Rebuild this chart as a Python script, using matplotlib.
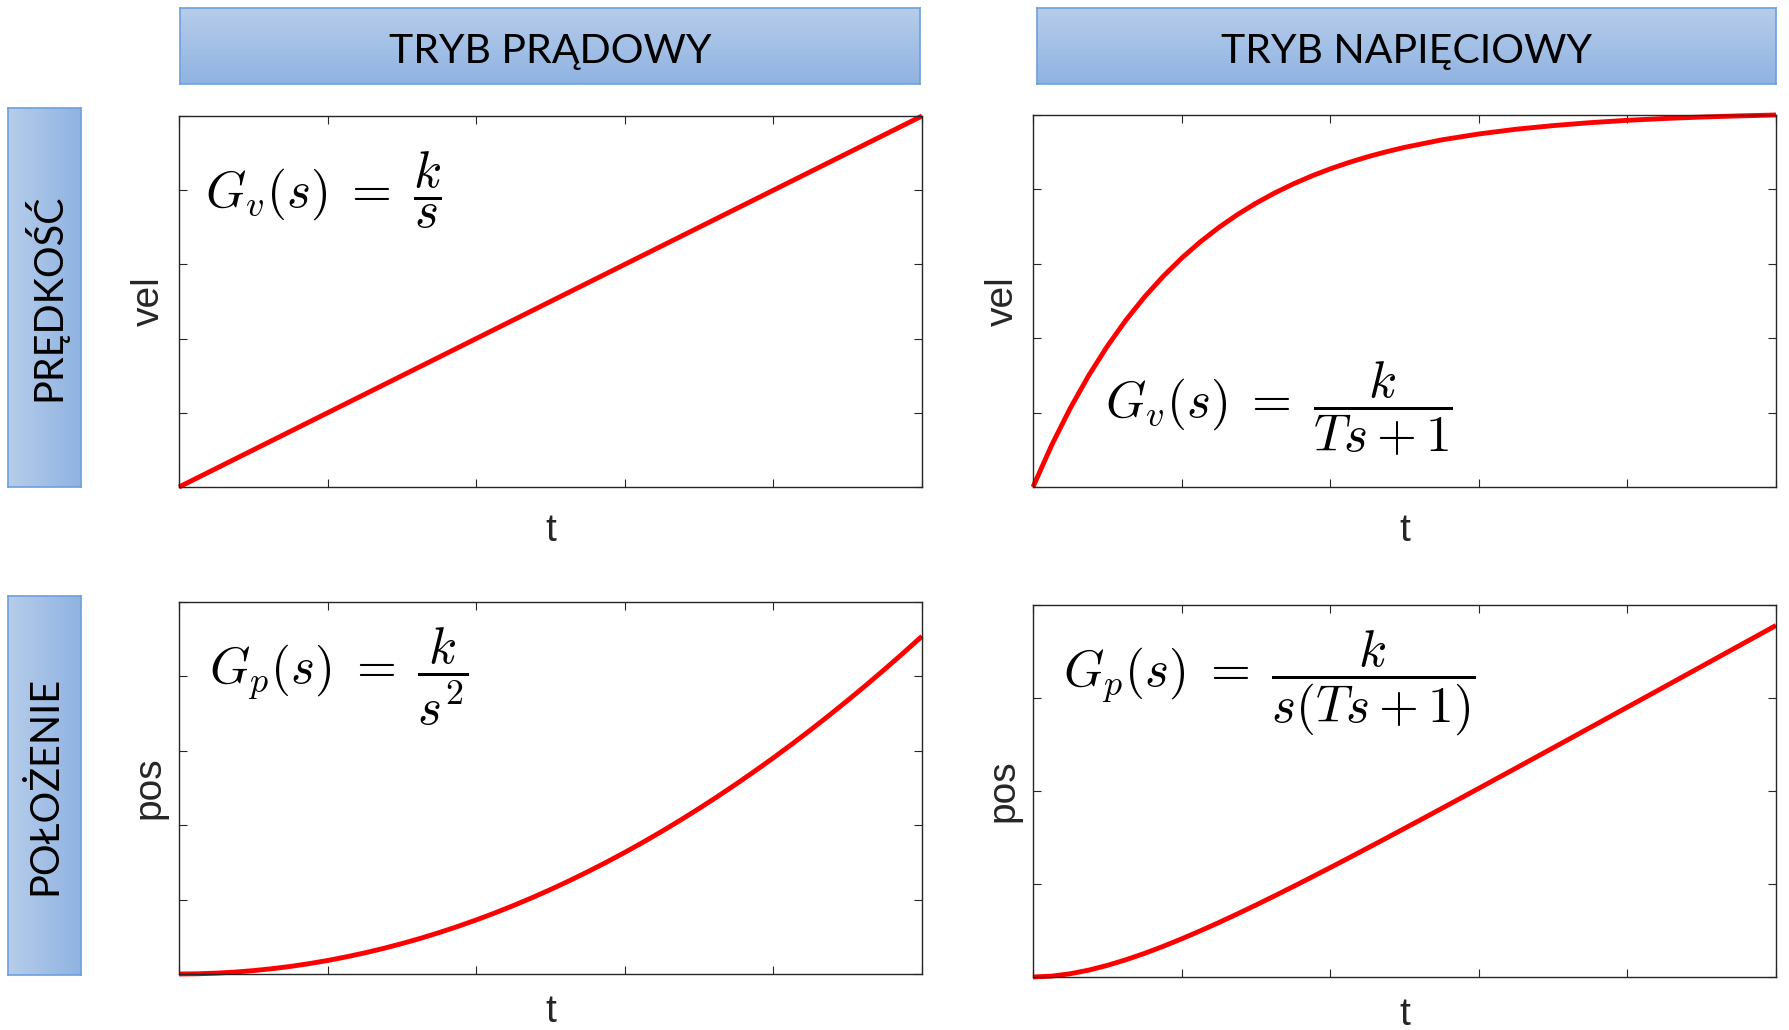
import numpy as np
import matplotlib
matplotlib.use('Agg')
import matplotlib.pyplot as plt

# curves, normalised to the axes (0..1)
t_lin = [0.0, 0.25, 0.5, 0.75, 1.0]
vel_current = [0.0, 0.25, 0.5, 0.75, 1.0]

t_exp = [0.0, 0.025, 0.05, 0.075, 0.1, 0.125, 0.15, 0.175, 0.2, 0.225, 0.25,
         0.275, 0.3, 0.325, 0.35, 0.375, 0.4, 0.425, 0.45, 0.475, 0.5,
         0.55, 0.6, 0.65, 0.7, 0.75, 0.8, 0.85, 0.9, 0.95, 1.0]
vel_voltage = [0.0, 0.1119, 0.2113, 0.2998, 0.3784, 0.4484, 0.5106, 0.5658, 0.615, 0.6587, 0.6975,
               0.7321, 0.7628, 0.7901, 0.8144, 0.836, 0.8552, 0.8722, 0.8875, 0.9009, 0.9129,
               0.9331, 0.949, 0.9617, 0.9715, 0.9794, 0.9857, 0.9906, 0.9945, 0.9976, 1.0]

t_pos = [0.0, 0.025, 0.05, 0.075, 0.1, 0.125, 0.15, 0.175, 0.2, 0.225, 0.25,
         0.275, 0.3, 0.325, 0.35, 0.375, 0.4, 0.425, 0.45, 0.475, 0.5,
         0.525, 0.55, 0.575, 0.6, 0.625, 0.65, 0.675, 0.7, 0.725, 0.75,
         0.775, 0.8, 0.825, 0.85, 0.875, 0.9, 0.925, 0.95, 0.975, 1.0]
pos_current = [0.0, 0.0006, 0.0023, 0.0051, 0.0091, 0.0142, 0.0204, 0.0278, 0.0363, 0.046, 0.0568,
               0.0687, 0.0817, 0.0959, 0.1112, 0.1277, 0.1453, 0.164, 0.1839, 0.2049, 0.227,
               0.2503, 0.2747, 0.3002, 0.3269, 0.3547, 0.3836, 0.4137, 0.4449, 0.4773, 0.5108,
               0.5454, 0.5811, 0.618, 0.656, 0.6952, 0.7355, 0.7769, 0.8195, 0.8632, 0.908]
pos_voltage = [0.0, 0.0023, 0.0087, 0.0185, 0.0312, 0.0463, 0.0634, 0.0822, 0.1025, 0.1239, 0.1462,
               0.1695, 0.1934, 0.2179, 0.2429, 0.2683, 0.294, 0.32, 0.3463, 0.3727, 0.3994,
               0.4261, 0.453, 0.48, 0.5071, 0.5343, 0.5614, 0.5887, 0.616, 0.6433, 0.6707,
               0.6981, 0.7255, 0.7528, 0.7802, 0.8077, 0.8351, 0.8626, 0.8901, 0.9175, 0.945]

col_titles = ['TRYB PRĄDOWY', 'TRYB NAPIĘCIOWY']
row_titles = ['PRĘDKOŚĆ', 'POŁOŻENIE']

formulas = [r'$G_v(s)\;=\;\dfrac{k}{s}$', r'$G_v(s)\;=\;\dfrac{k}{Ts+1}$',
            r'$G_p(s)\;=\;\dfrac{k}{s^2}$', r'$G_p(s)\;=\;\dfrac{k}{s(Ts+1)}$']

plt.rcParams['mathtext.fontset'] = 'cm'

W, H = 1789, 1030
fig = plt.figure(figsize=(W / 100, H / 100), dpi=100)


def box(rect, text, vertical, size):
    ax = fig.add_axes(rect)
    if vertical:
        grad = np.linspace(0, 1, 256).reshape(1, -1)
    else:
        grad = np.linspace(0, 1, 256).reshape(-1, 1)
    cmap = matplotlib.colors.LinearSegmentedColormap.from_list('bx', ['#b7cdea', '#8fb3e2'])
    ax.imshow(grad, cmap=cmap, aspect='auto', extent=[0, 1, 0, 1],
              origin='upper' if not vertical else 'lower')
    ax.set_xlim(0, 1)
    ax.set_ylim(0, 1)
    ax.set_xticks([])
    ax.set_yticks([])
    for s in ax.spines.values():
        s.set_color('#6e9fdc')
        s.set_linewidth(1.2)
    if vertical:
        ax.text(0.5, 0.5, text, ha='center', va='center', fontsize=size, family='Lato',
                rotation=90, color='black')
    else:
        ax.text(0.5, 0.43, text, ha='center', va='center', fontsize=size, family='Lato',
                color='black')


box([180 / W, 1 - 84 / H, 740 / W, 76 / H], col_titles[0], False, 29.5)
box([1037 / W, 1 - 84 / H, 739 / W, 76 / H], col_titles[1], False, 29.5)
box([8 / W, 1 - 487 / H, 73 / W, 379 / H], row_titles[0], True, 28.5)
box([8 / W, 1 - 975 / H, 73 / W, 379 / H], row_titles[1], True, 28.5)

# axes rectangles (left, top, right, bottom) in pixels
rects = [(179, 116, 922, 487), (1033, 115, 1776, 487),
         (179, 602, 922, 974), (1033, 605, 1776, 977)]
xs = [t_lin, t_exp, t_pos, t_pos]
series = [vel_current, vel_voltage, pos_current, pos_voltage]
ylabels = ['vel', 'vel', 'pos', 'pos']
yticks = [np.arange(0, 1.01, 0.2), np.arange(0, 1.01, 0.2),
          np.arange(0, 1.01, 0.2), np.arange(0, 1.01, 0.25)]
text_pos = [(0.035, 0.80), (0.097, 0.21), (0.04, 0.80), (0.04, 0.79)]
xpads = [15, 15, 11, 11]

for i in range(4):
    l, tp, r, b = rects[i]
    ax = fig.add_axes([l / W, 1 - b / H, (r - l) / W, (b - tp) / H])
    ax.plot(xs[i], series[i], color='#ff0000', lw=3.5, solid_capstyle='butt',
            solid_joinstyle='round', clip_on=False)
    ax.set_xlim(0, 1)
    ax.set_ylim(0, 1)
    ax.set_xticks(np.arange(0, 1.01, 0.2))
    ax.set_yticks(yticks[i])
    ax.set_xticklabels([])
    ax.set_yticklabels([])
    ax.tick_params(direction='in', length=6, width=0.8, color='#262626',
                   top=True, right=True)
    for s in ax.spines.values():
        s.set_color('#262626')
        s.set_linewidth(1.0)
    ax.set_xlabel('t', fontsize=28, family='Liberation Sans', color='#262626', labelpad=xpads[i])
    ax.set_ylabel(ylabels[i], fontsize=28, family='Liberation Sans', color='#262626', labelpad=5)
    ax.text(text_pos[i][0], text_pos[i][1], formulas[i], transform=ax.transAxes,
            fontsize=37, ha='left', va='center')

fig.savefig('out.png', dpi=100)
